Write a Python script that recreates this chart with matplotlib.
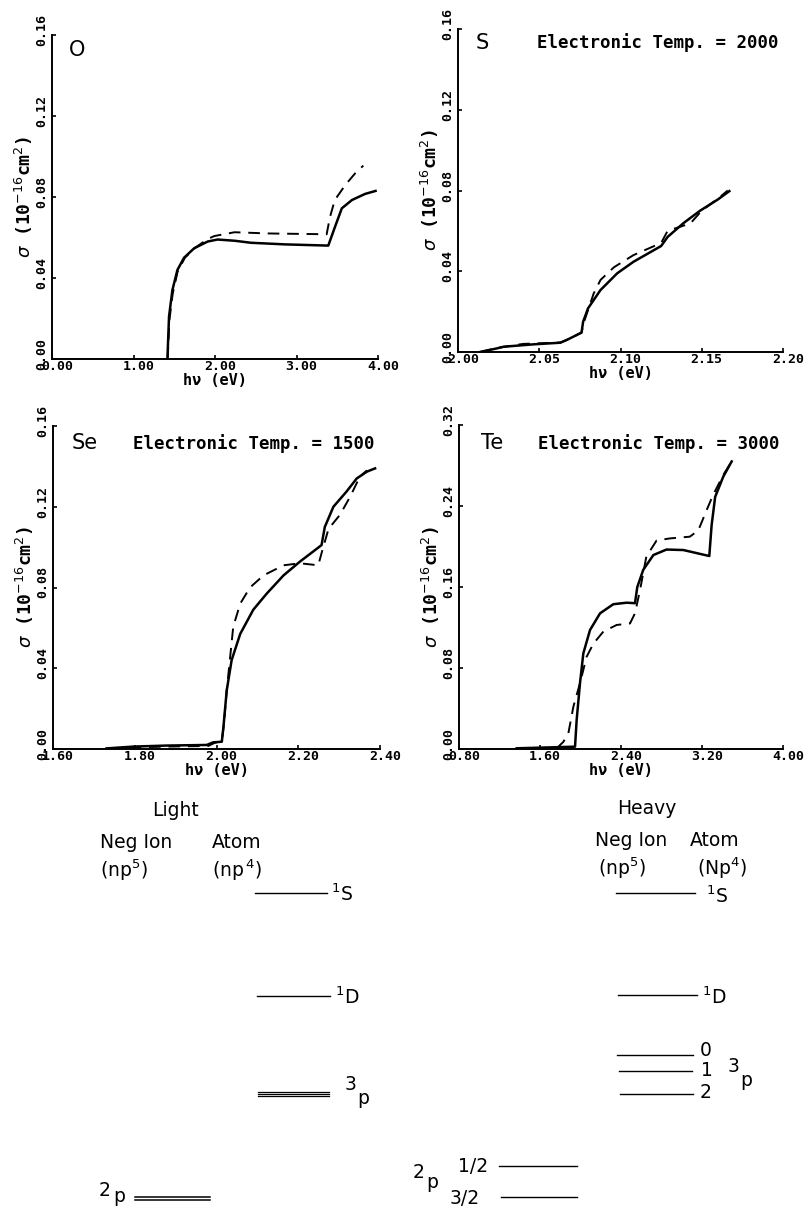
import matplotlib
matplotlib.use("Agg")
import matplotlib.pyplot as plt
import matplotlib.transforms as mtransforms
from matplotlib.ticker import FormatStrFormatter

plt.rcParams['mathtext.fontset'] = 'dejavusans'

# ---------------- data ----------------
# O panel
O_solid_x = [1.416, 1.436, 1.477, 1.539, 1.62, 1.745, 1.91, 2.03, 2.24, 2.44, 2.86, 3.39, 3.47, 3.556, 3.68, 3.84, 3.97]
O_solid_y = [0.0, 0.021, 0.034, 0.044, 0.050, 0.0547, 0.058, 0.059, 0.0584, 0.0574, 0.0566, 0.056, 0.065, 0.0744, 0.0785, 0.0815, 0.083]
O_dash_x = [1.42, 1.44, 1.48, 1.54, 1.63, 1.76, 1.90, 1.99, 2.24, 2.65, 3.37, 3.41, 3.47, 3.60, 3.72, 3.82]
O_dash_y = [0.0, 0.019, 0.032, 0.043, 0.050, 0.055, 0.059, 0.0607, 0.0626, 0.062, 0.0616, 0.070, 0.0785, 0.086, 0.0917, 0.0955]

# S panel
S_solid_x = [2.0136, 2.024, 2.028, 2.0465, 2.063, 2.067, 2.076, 2.077, 2.080, 2.0877, 2.098, 2.108, 2.125, 2.129, 2.139, 2.149, 2.160, 2.167]
S_solid_y = [0.0, 0.0018, 0.0026, 0.0038, 0.0046, 0.006, 0.0096, 0.015, 0.0216, 0.0307, 0.039, 0.0447, 0.0525, 0.057, 0.064, 0.070, 0.0756, 0.0797]
S_dash_x = [2.0136, 2.024, 2.040, 2.063, 2.067, 2.076, 2.078, 2.0835, 2.0877, 2.096, 2.108, 2.125, 2.129, 2.143, 2.150, 2.160, 2.166]
S_dash_y = [0.0, 0.0020, 0.0040, 0.0047, 0.006, 0.0096, 0.016, 0.029, 0.0357, 0.042, 0.048, 0.054, 0.060, 0.0637, 0.070, 0.0760, 0.0800]

# Se panel
Se_solid_x = [1.731, 1.797, 1.878, 1.976, 1.992, 2.013, 2.017, 2.025, 2.037, 2.058, 2.09, 2.123, 2.164, 2.204, 2.257, 2.265, 2.286, 2.318, 2.343, 2.368, 2.388]
Se_solid_y = [0.0003, 0.0012, 0.0017, 0.002, 0.0033, 0.0036, 0.011, 0.029, 0.044, 0.057, 0.069, 0.077, 0.086, 0.0928, 0.101, 0.110, 0.120, 0.1275, 0.134, 0.1374, 0.139]
Se_dash_x = [1.74, 1.80, 1.88, 1.98, 1.995, 2.013, 2.018, 2.025, 2.041, 2.058, 2.082, 2.115, 2.164, 2.204, 2.249, 2.257, 2.274, 2.302, 2.327, 2.351, 2.368]
Se_dash_y = [0.0, 0.0008, 0.0012, 0.0015, 0.003, 0.004, 0.012, 0.029, 0.0606, 0.072, 0.080, 0.086, 0.091, 0.092, 0.091, 0.097, 0.109, 0.116, 0.125, 0.135, 0.138]

# Te panel
Te_solid_x = [1.37, 1.70, 1.946, 1.962, 1.995, 2.028, 2.094, 2.193, 2.324, 2.456, 2.538, 2.561, 2.62, 2.72, 2.85, 3.016, 3.272, 3.295, 3.33, 3.41, 3.493]
Te_solid_y = [0.0007, 0.0016, 0.0023, 0.0286, 0.065, 0.0945, 0.1175, 0.134, 0.143, 0.1445, 0.144, 0.160, 0.177, 0.1916, 0.197, 0.1965, 0.1906, 0.221, 0.249, 0.269, 0.284]
Te_dash_x = [1.765, 1.83, 1.88, 1.93, 1.995, 2.06, 2.127, 2.226, 2.357, 2.489, 2.538, 2.588, 2.65, 2.752, 2.884, 3.08, 3.164, 3.246, 3.31, 3.41, 3.493]
Te_dash_y = [0.0007, 0.007, 0.0155, 0.042, 0.065, 0.091, 0.104, 0.116, 0.1225, 0.124, 0.134, 0.157, 0.190, 0.206, 0.208, 0.2097, 0.216, 0.236, 0.251, 0.2706, 0.284]

O_xticks = [0.0, 1.0, 2.0, 3.0, 4.0]
S_xticks = [2.00, 2.05, 2.10, 2.15, 2.20]
Se_xticks = [1.60, 1.80, 2.00, 2.20, 2.40]
Te_xticks = [0.80, 1.60, 2.40, 3.20, 4.00]
yticks_small = [0.00, 0.04, 0.08, 0.12, 0.16]
yticks_large = [0.00, 0.08, 0.16, 0.24, 0.32]

panel_names = ["O", "S", "Se", "Te"]
temp_labels = [None, "Electronic Temp. = 2000", "Electronic Temp. = 1500", "Electronic Temp. = 3000"]

# ---------------- figure ----------------
fig = plt.figure(figsize=(8.08, 12.09), dpi=100)

W, H = 808.0, 1209.0
def rect(l, t, r, b):
    return [l / W, 1 - b / H, (r - l) / W, (b - t) / H]

axO = fig.add_axes(rect(52, 35, 378, 359))
axS = fig.add_axes(rect(458, 29, 783, 352))
axSe = fig.add_axes(rect(53, 426, 380, 749))
axTe = fig.add_axes(rect(459, 425, 783, 749))

mono = dict(family='DejaVu Sans Mono', weight='bold')

panels = [
    (axO, O_solid_x, O_solid_y, O_dash_x, O_dash_y, O_xticks, yticks_small, (0.077, 0.954), None),
    (axS, S_solid_x, S_solid_y, S_dash_x, S_dash_y, S_xticks, yticks_small, (0.074, 0.957), 0.243),
    (axSe, Se_solid_x, Se_solid_y, Se_dash_x, Se_dash_y, Se_xticks, yticks_small, (0.098, 0.947), 0.245),
    (axTe, Te_solid_x, Te_solid_y, Te_dash_x, Te_dash_y, Te_xticks, yticks_large, (0.102, 0.944), 0.244),
]

xshift = mtransforms.ScaledTranslation(5 / 100, 0, fig.dpi_scale_trans)
yshift = mtransforms.ScaledTranslation(0, 5 / 100, fig.dpi_scale_trans)

for i, (ax, sx, sy, dx, dy, xt, yt, npos, tx) in enumerate(panels):
    ax.plot(sx, sy, color='black', lw=1.8, solid_joinstyle='round')
    ax.plot(dx, dy, color='black', lw=1.4, linestyle=(0, (6, 4)))
    ax.set_xlim(xt[0], xt[-1])
    ax.set_ylim(yt[0], yt[-1])
    ax.set_xticks(xt)
    ax.set_yticks(yt)
    ax.xaxis.set_major_formatter(FormatStrFormatter('%.2f'))
    ax.yaxis.set_major_formatter(FormatStrFormatter('%.2f'))
    for s in ['top', 'right']:
        ax.spines[s].set_visible(False)
    for s in ['left', 'bottom']:
        ax.spines[s].set_linewidth(1.4)
    ax.tick_params(direction='in', length=3, width=1.2, labelsize=9.5, pad=1)
    ax.tick_params(axis='y', pad=3)
    for lab in ax.get_xticklabels():
        lab.set_fontfamily('DejaVu Sans Mono'); lab.set_fontweight('bold')
        lab.set_transform(lab.get_transform() + xshift)
    for lab in ax.get_yticklabels():
        lab.set_fontfamily('DejaVu Sans Mono'); lab.set_fontweight('bold')
        lab.set_rotation(90); lab.set_va('center')
        lab.set_transform(lab.get_transform() + yshift)
    ax.set_xlabel('h\u03bd (eV)', fontsize=11, labelpad=0, **mono)
    ax.set_ylabel(r'$\sigma$ (10$^{-16}$cm$^{2}$)', fontsize=13, labelpad=0, **mono)
    ax.text(npos[0], npos[1], panel_names[i], transform=ax.transAxes, ha='center', va='center',
            fontsize=15, family='DejaVu Sans')
    if tx is not None:
        ax.text(tx, npos[1], temp_labels[i], transform=ax.transAxes, ha='left', va='center',
                fontsize=12.5, **mono)

# ---------------- energy level diagram ----------------
axD = fig.add_axes([0, 0, 1, 1])
axD.set_xlim(0, W)
axD.set_ylim(H, 0)
axD.axis('off')

# light (left) levels: (x0, x1, y)
light_levels_x0 = [255, 257, 258, 258, 258, 135, 135]
light_levels_x1 = [327, 330, 329, 329, 329, 210, 210]
light_levels_y = [893, 996, 1092, 1094, 1096, 1197, 1200]
light_lw = [1.0, 1.0, 0.9, 0.9, 0.9, 1.1, 1.1]

heavy_levels_x0 = [616, 618, 617, 619, 620, 499, 501]
heavy_levels_x1 = [695, 697, 693, 692, 693, 577, 577]
heavy_levels_y = [893, 995, 1055, 1071, 1094, 1166, 1197]

for x0, x1, y, lw in zip(light_levels_x0, light_levels_x1, light_levels_y, light_lw):
    axD.plot([x0, x1], [y, y], color='black', lw=lw)
for x0, x1, y in zip(heavy_levels_x0, heavy_levels_x1, heavy_levels_y):
    axD.plot([x0, x1], [y, y], color='black', lw=1.0)

fs = 13.5
sans = dict(family='DejaVu Sans', color='black')
def t(x, y, s, size=fs, ha='left', va='center'):
    axD.text(x, y, s, fontsize=size, ha=ha, va=va, **sans)

# Light headers
t(175, 810, 'Light', ha='center')
t(100, 843, 'Neg Ion')
t(100, 870, r'(np$^{5}$)')
t(212, 843, 'Atom')
t(212, 870, r'(np$^{\,4}$)')
# Light labels
t(331, 894, r'$^{1}$S')
t(335, 997, r'$^{1}$D')
t(345, 1085, '3'); t(357, 1098, 'p')
t(99, 1191, '2'); t(113, 1202, 'p', va='baseline')

# Heavy headers
t(647, 808, 'Heavy', ha='center')
t(595, 841, 'Neg Ion')
t(598, 868, r'(np$^{5}$)')
t(690, 841, 'Atom')
t(697, 868, r'(Np$^{4}$)')
# Heavy labels
t(706, 896, r'$^{1}$S')
t(702, 997, r'$^{1}$D')
t(700, 1051, '0'); t(701, 1070, '1'); t(700, 1092, '2')
t(728, 1067, '3'); t(740, 1080, 'p')
t(413, 1172, '2'); t(426, 1183, 'p')
t(458, 1166, '1/2'); t(450, 1198, '3/2')

fig.savefig('out.png', dpi=100)
